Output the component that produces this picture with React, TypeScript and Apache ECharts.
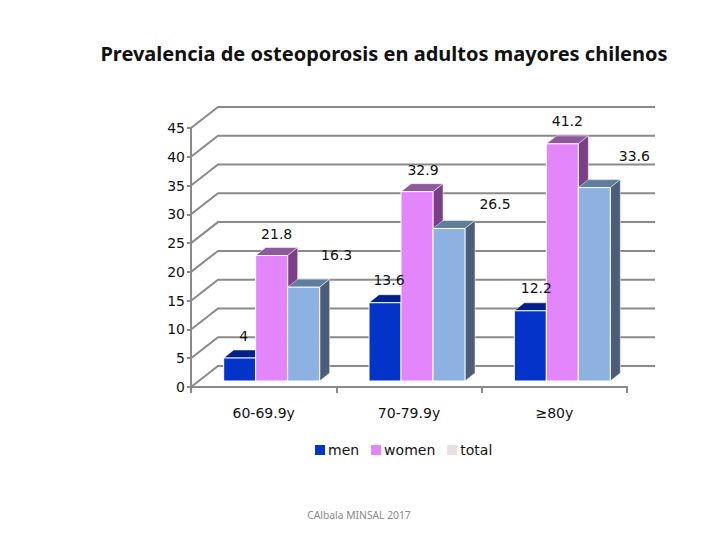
import React, { useEffect, useRef } from "react";
import * as echarts from "echarts";

const categories = ["60-69.9y", "70-79.9y", "≥80y"];
const men = [4, 13.6, 12.2];
const women = [21.8, 32.9, 41.2];
const total = [16.3, 26.5, 33.6];
const yTicks = [0, 5, 10, 15, 20, 25, 30, 35, 40, 45];

const seriesStyles = [
  { front: "#0433c9", top: "#022184", side: "#022184", legend: "#0433c9" },
  { front: "#e385fb", top: "#8f5a9d", side: "#7a3f86", legend: "#e385fb" },
  { front: "#8db2e2", top: "#5f7d9d", side: "#4b5d78", legend: "#ecdde0" },
];
const labelNudge = [
  [[4, -22], [4, -23], [6, -23]],
  [[5, -22], [6, -22], [5, -23]],
  [[33, -32], [46, -24], [40, -32]],
];

const DEPTH_X = 27, DEPTH_Y = 21, BAR_DX = 10, BAR_DY = 8, BASE_DY = 6, BAR_W = 32, SHIFT = 8;
const FONT = "DejaVu Sans";
const AXIS_COLOR = "#8a8a8a";

function barX(c0: number, sIdx: number) {
  return c0 + SHIFT + (sIdx - 1.5) * BAR_W;
}

function bars3d(sIdx: number) {
  const st = seriesStyles[sIdx];
  return (params: any, api: any) => {
    const i = api.value(0);
    const v = api.value(1);
    const c = api.coord([i, 0]);
    const t = api.coord([i, v]);
    const x0 = barX(c[0], sIdx);
    const x1 = x0 + BAR_W;
    const yb = c[1] - BASE_DY;
    const yt = t[1] - BASE_DY;
    return {
      type: "group",
      children: [
        { type: "polygon", shape: { points: [[x0, yt], [x0 + BAR_DX, yt - BAR_DY], [x1 + BAR_DX, yt - BAR_DY], [x1, yt]] }, style: { fill: st.top, stroke: "#ffffff", lineWidth: 0.5 } },
        { type: "polygon", shape: { points: [[x1, yb], [x1 + BAR_DX, yb - BAR_DY], [x1 + BAR_DX, yt - BAR_DY], [x1, yt]] }, style: { fill: st.side, stroke: "#ffffff", lineWidth: 0.5 } },
        { type: "rect", shape: { x: x0, y: yt, width: BAR_W, height: yb - yt }, style: { fill: st.front, stroke: "#ffffff", lineWidth: 1 } },
      ],
    };
  };
}

function valueLabel(params: any, api: any) {
  const i = api.value(0);
  const v = api.value(1);
  const s = api.value(2);
  const c = api.coord([i, 0]);
  const t = api.coord([i, v]);
  const n = labelNudge[s][i];
  return {
    type: "text",
    x: barX(c[0], s) + BAR_W / 2 + n[0],
    y: t[1] - BASE_DY + n[1],
    style: { text: String(v), font: `14px "${FONT}"`, fill: "#111111", textAlign: "center", textVerticalAlign: "middle" },
  };
}

function wall(params: any, api: any) {
  const v = api.value(0);
  const cs = params.coordSys;
  const y = api.coord([0, v])[1];
  const x0 = cs.x, x1 = cs.x + cs.width;
  return {
    type: "polyline",
    shape: { points: [[x0, y], [x0 + DEPTH_X, y - DEPTH_Y], [x1 + 28, y - DEPTH_Y]] },
    style: { fill: "none", stroke: AXIS_COLOR, lineWidth: 2 },
  };
}

export default function App() {
  const ref = useRef<HTMLDivElement>(null);
  useEffect(() => {
    const chart = echarts.init(ref.current!, undefined, { renderer: "svg" });
    const labels = [men, women, total].flatMap((arr, s) => arr.map((v, i) => [i, v, s]));
    chart.setOption({
      animation: false,
      backgroundColor: "#ffffff",
      title: {
        text: "Prevalencia de osteoporosis en adultos mayores chilenos",
        left: 379, top: 38, textAlign: "center",
        textStyle: { fontFamily: "Noto Sans", fontSize: 20, fontWeight: "bold", color: "#111111" },
      },
      grid: { left: 191, top: 128, width: 436, height: 259 },
      xAxis: {
        type: "category", data: categories,
        axisLine: { lineStyle: { color: AXIS_COLOR, width: 2 } },
        axisTick: { show: true, alignWithLabel: false, length: 6, lineStyle: { color: AXIS_COLOR, width: 2 } },
        axisLabel: { fontFamily: FONT, fontSize: 14, color: "#111111", margin: 19 },
      },
      yAxis: {
        type: "value", min: 0, max: 45, interval: 5,
        axisLine: { show: true, lineStyle: { color: AXIS_COLOR, width: 2 } },
        axisTick: { show: true, length: 4, lineStyle: { color: AXIS_COLOR, width: 2 } },
        axisLabel: { fontFamily: FONT, fontSize: 14, color: "#111111", margin: 6, padding: [2, 0, 0, 0] },
        splitLine: { show: false },
      },
      legend: {
        left: 310, top: 438, itemWidth: 10, itemHeight: 10, itemGap: 12,
        textStyle: { fontFamily: FONT, fontSize: 14, color: "#111111", padding: [0, 0, 0, -2] },
        data: ["men", "women", "total"].map((name, i) => ({
          name, icon: "rect", itemStyle: { color: seriesStyles[i].legend },
        })),
      },
      graphic: [{
        type: "text", x: 359, y: 515,
        style: { text: "CAlbala MINSAL 2017", font: '10.3px "Noto Sans"', fill: "#8a8a8a", textAlign: "center", textVerticalAlign: "middle" },
      }],
      series: [
        { type: "custom", name: "wall", renderItem: wall, data: yTicks.map((v) => [v]), encode: { y: 0 }, silent: true, z: 1 },
        { type: "custom", name: "men", renderItem: bars3d(0), data: men.map((v, i) => [i, v]), itemStyle: { color: seriesStyles[0].legend }, z: 2 },
        { type: "custom", name: "women", renderItem: bars3d(1), data: women.map((v, i) => [i, v]), itemStyle: { color: seriesStyles[1].legend }, z: 3 },
        { type: "custom", name: "total", renderItem: bars3d(2), data: total.map((v, i) => [i, v]), itemStyle: { color: seriesStyles[2].legend }, z: 4 },
        { type: "custom", name: "labels", renderItem: valueLabel, data: labels, silent: true, z: 5 },
      ],
    });
    return () => chart.dispose();
  }, []);
  return <div ref={ref} style={{ width: 720, height: 540, position: "absolute", left: 0, top: 0 }} />;
}
